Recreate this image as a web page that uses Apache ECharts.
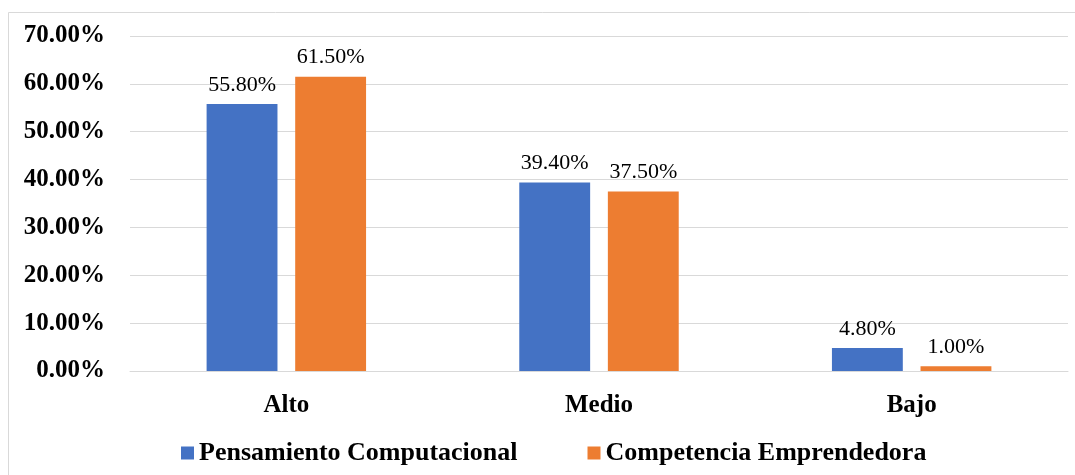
<!DOCTYPE html>
<html>
<head>
<meta charset="utf-8">
<script src="https://cdn.jsdelivr.net/npm/echarts@6/dist/echarts.min.js"></script>
<style>html,body{margin:0;padding:0;background:#fff;}#c{width:1075px;height:475px;}</style>
</head>
<body>
<div id="c"></div>
<script>
const categories = ['Alto', 'Medio', 'Bajo'];
const seriesNames = ['Pensamiento Computacional', 'Competencia Emprendedora'];
const pensamiento = [55.8, 39.4, 4.8];
const competencia = [61.5, 37.5, 1.0];
const colors = ['#4472C4', '#ED7D31'];
const FONT = '"Liberation Serif", "Times New Roman", serif';

const chart = echarts.init(document.getElementById('c'), null, {renderer: 'canvas'});
const labelCfg = {
  show: true, position: 'top', distance: 8,
  fontFamily: FONT, fontSize: 22, color: '#000',
  formatter: p => p.value.toFixed(2) + '%'
};
chart.setOption({
  animation: false,
  backgroundColor: '#fff',
  graphic: [{
    type: 'rect', shape: {x: 8.5, y: 12.5, width: 1100, height: 500},
    style: {fill: 'none', stroke: '#d9d9d9', lineWidth: 1}, silent: true, z: -1
  }],
  grid: {left: 130, right: 7, top: 36, bottom: 104},
  legend: {
    data: seriesNames, top: 435, left: 176,
    itemWidth: 13, itemHeight: 13, itemGap: 70, icon: 'rect',
    textStyle: {fontFamily: FONT, fontSize: 26, fontWeight: 'bold', color: '#000'}
  },
  xAxis: {
    type: 'category', data: categories,
    axisLine: {lineStyle: {color: '#d9d9d9', width: 1}},
    axisTick: {show: false},
    axisLabel: {fontFamily: FONT, fontSize: 25, fontWeight: 'bold', color: '#000', margin: 22}
  },
  yAxis: {
    type: 'value', min: 0, max: 70, interval: 10,
    axisLine: {show: false}, axisTick: {show: false},
    splitLine: {lineStyle: {color: '#d9d9d9', width: 1}},
    axisLabel: {fontFamily: FONT, fontSize: 25, fontWeight: 'bold', color: '#000', margin: 25,
      formatter: v => v.toFixed(2) + '%'}
  },
  series: [
    {name: seriesNames[0], type: 'bar', data: pensamiento, itemStyle: {color: colors[0]},
     barGap: '25%', barCategoryGap: '49%', label: labelCfg},
    {name: seriesNames[1], type: 'bar', data: competencia, itemStyle: {color: colors[1]},
     barGap: '25%', barCategoryGap: '49%', label: labelCfg}
  ]
});
</script>
</body>
</html>
